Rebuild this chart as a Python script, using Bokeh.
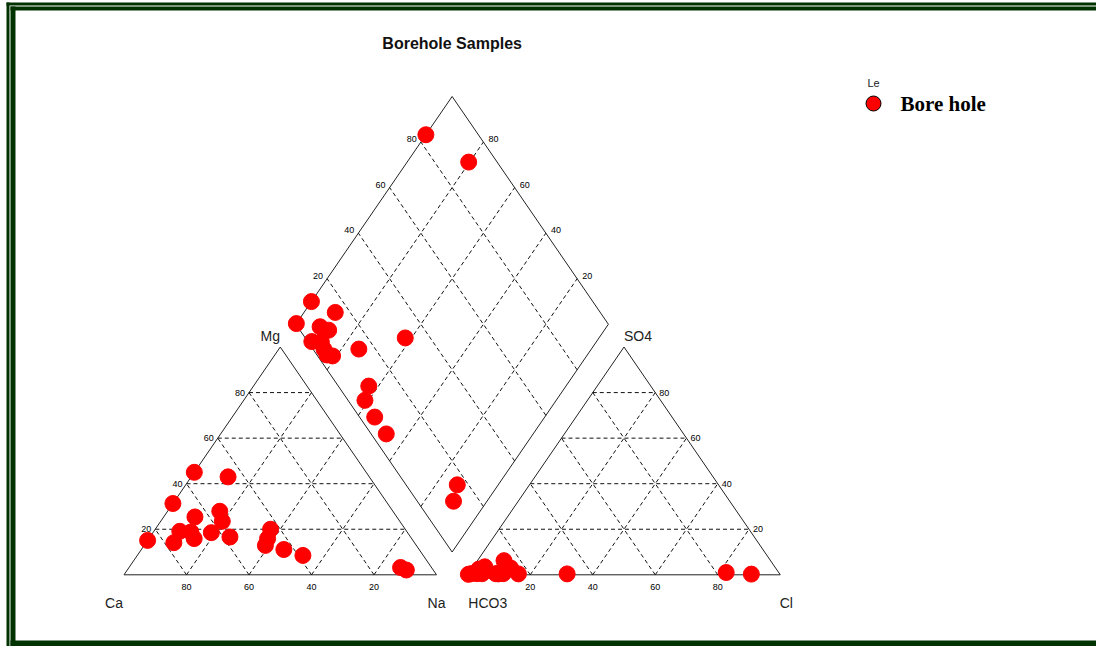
import numpy as np
from bokeh.plotting import figure
from bokeh.models import Range1d
from bokeh.core.properties import value
from bokeh.embed import file_html
from bokeh.resources import INLINE

# ---------------- data (meq %) ----------------
title_text = "Borehole Samples"
legend_label = "Bore hole"
ca = [55.0, 68.7, 84.9, 56.8, 62.8, 55.4, 69.6, 45.2, 69.2, 64.6,
      72.6, 77.0, 57.8, 43.1, 46.1, 48.3, 43.3, 38.5, 9.9, 8.6]
mg = [45.0, 31.3, 15.1, 23.5, 18.5, 27.9, 15.9, 43.0, 18.8, 25.4,
      19.1, 14.1, 16.6, 20.0, 15.9, 12.9, 11.1, 8.5, 3.2, 2.1]
na = [0.0, 0.0, 0.0, 19.7, 18.7, 16.7, 14.5, 11.8, 12.0, 10.0,
      8.3, 8.9, 25.6, 36.9, 38.0, 38.8, 45.6, 53.0, 86.9, 89.3]
hco3 = [16.8, 90.05, 99.7, 9.1, 95.2, 96.8, 96.5, 90.8, 95.7, 84.8,
        92.8, 98.7, 85.3, 90.25, 68.0, 94.6, 95.15, 95.15, 83.6, 88.4]
so4 = [1.0, 0.4, 0.2, 0.3, 2.5, 0.5, 1.0, 0.5, 1.5, 3.0,
       3.5, 0.5, 6.2, 0.5, 0.4, 2.2, 0.5, 1.0, 0.4, 0.5]
cl = [82.2, 9.55, 0.1, 90.6, 2.3, 2.7, 2.5, 8.7, 2.8, 12.2,
      3.7, 0.8, 8.5, 9.25, 31.6, 3.2, 4.35, 3.85, 16.0, 11.1]
tick_vals = [20, 40, 60, 80]
cation_corners = ["Ca", "Na", "Mg"]
anion_corners = ["HCO3", "Cl", "SO4"]

# ---------------- layout ----------------
G = 10.0              # gap between triangles
H = np.sqrt(3) / 2
X0, SX = 123.5, 3.125  # page px of Ca corner, px per unit
Y0, SY = 574.3, 2.63
W, HT = 1096, 646

def px2x(px):
    return (px - X0) / SX

def px2y(py):
    return (Y0 - py) / SY

GREEN = "#003300"
FONT = "Liberation Sans"
LINEC = "#222222"
RED = "#FF0000"

p = figure(width=W, height=HT, x_range=Range1d(px2x(0), px2x(W)),
           y_range=Range1d(px2y(HT), px2y(0)), x_axis_type=None, y_axis_type=None,
           output_backend="svg", toolbar_location=None, min_border=0,
           outline_line_color=None, background_fill_color="white",
           border_fill_color="white")

# ---------------- frame ----------------
def qpx(l, r, t, b):
    p.quad(left=px2x(l), right=px2x(r), top=px2y(t), bottom=px2y(b),
           fill_color=GREEN, line_color=None)

qpx(6, 9, 2, HT)
qpx(10, 15, 6, HT)
qpx(6, W, 2, 5)
qpx(10, W, 6, 10)
qpx(10, W, 640, HT)

# ---------------- geometry ----------------
ca_a, mg_a, na_a = map(np.array, (ca, mg, na))
hc_a, so_a, cl_a = map(np.array, (hco3, so4, cl))
cs = ca_a + mg_a + na_a
as_ = hc_a + so_a + cl_a
mgp, nap = 100 * mg_a / cs, 100 * na_a / cs
sop, clp = 100 * so_a / as_, 100 * cl_a / as_

XR = 100 + G  # right triangle offset
Bx, By = 100 + G / 2, G * H
ur = np.array([0.5, H])
ul = np.array([-0.5, H])

cx = nap + mgp / 2
cy = mgp * H
axx = XR + clp + sop / 2
ayy = sop * H
K = 100 - nap
A = sop + clp
dx = Bx + 0.5 * (A - K)
dy = By + H * (A + K)

# ---------------- outlines ----------------
tri_l = ([0, 100, 50, 0], [0, 0, 100 * H, 0])
tri_r = ([XR, XR + 100, XR + 50, XR], [0, 0, 100 * H, 0])
B = np.array([Bx, By])
L = B + 100 * ul
R = B + 100 * ur
T = B + 100 * ul + 100 * ur
p.line(*tri_l, line_color=LINEC, line_width=1)
p.line(*tri_r, line_color=LINEC, line_width=1)
p.line([B[0], R[0], T[0], L[0], B[0]], [B[1], R[1], T[1], L[1], B[1]],
       line_color=LINEC, line_width=1)

# ---------------- grids ----------------
xs, ys = [], []
for v in tick_vals:
    for off in (0, XR):
        xs.append([off + v / 2, off + 100 - v / 2]); ys.append([v * H, v * H])
        xs.append([off + v, off + v + (100 - v) / 2]); ys.append([0, (100 - v) * H])
        xs.append([off + 100 - v, off + (100 - v) / 2]); ys.append([0, (100 - v) * H])
    s = B + v * ur
    e = s + 100 * ul
    xs.append([s[0], e[0]]); ys.append([s[1], e[1]])
    s = B + v * ul
    e = s + 100 * ur
    xs.append([s[0], e[0]]); ys.append([s[1], e[1]])
p.multi_line(xs, ys, line_color="#111111", line_width=1, line_dash="4 3")

# ---------------- tick labels ----------------
tv = np.array(tick_vals, dtype=float)
tfs = "9px"
TC = "#000000"
p.text(tv, np.zeros(4), text=[str(int(100 - v)) for v in tv], y_offset=12,
       text_align="center", text_baseline="middle", text_font=value(FONT),
       text_font_size=tfs, text_color=TC)
p.text(tv / 2, tv * H, text=[str(int(v)) for v in tv], x_offset=-4,
       text_align="right", text_baseline="middle", text_font=value(FONT),
       text_font_size=tfs, text_color=TC)
p.text(XR + tv, np.zeros(4), text=[str(int(v)) for v in tv], y_offset=12,
       text_align="center", text_baseline="middle", text_font=value(FONT),
       text_font_size=tfs, text_color=TC)
p.text(XR + 100 - tv / 2, tv * H, text=[str(int(v)) for v in tv], x_offset=4,
       text_align="left", text_baseline="middle", text_font=value(FONT),
       text_font_size=tfs, text_color=TC)
ulp = np.array([L + v * ur for v in tv])
p.text(ulp[:, 0], ulp[:, 1], text=[str(int(v)) for v in tv], x_offset=-4, y_offset=-3,
       text_align="right", text_baseline="middle", text_font=value(FONT),
       text_font_size=tfs, text_color=TC)
urp = np.array([R + v * ul for v in tv])
p.text(urp[:, 0], urp[:, 1], text=[str(int(v)) for v in tv], x_offset=5, y_offset=-3,
       text_align="left", text_baseline="middle", text_font=value(FONT),
       text_font_size=tfs, text_color=TC)

# ---------------- corner labels ----------------
cfs = "14px"
corner_x = [0, 100, 50, XR, XR + 100, XR + 50]
corner_y = [0, 0, 100 * H, 0, 0, 100 * H]
corner_dx = [-10, 0, -10, 20, 6, 14]
corner_dy = [28, 28, -11, 28, 28, -11]
p.text(corner_x, corner_y, text=cation_corners + anion_corners,
       x_offset=corner_dx, y_offset=corner_dy, text_align="center",
       text_baseline="middle", text_font=value(FONT), text_font_size=cfs,
       text_color="#222222")

# ---------------- title ----------------
p.text([Bx], [px2y(43)], text=[title_text], text_align="center",
       text_baseline="middle", text_font=value(FONT), text_font_size="16px",
       text_font_style="bold", text_color="#111111")

# ---------------- data points ----------------
allx = np.concatenate([cx, axx, dx])
ally = np.concatenate([cy, ayy, dy])
p.scatter(allx, ally, size=16, marker="circle", fill_color=RED, line_color=RED)

# ---------------- legend ----------------
p.text([px2x(873)], [px2y(82)], text=["Le"], text_align="center",
       text_baseline="middle", text_font=value(FONT), text_font_size="11px",
       text_color="#222222")
p.scatter([px2x(873)], [px2y(103)], size=15, marker="circle",
          fill_color=RED, line_color="#000000", line_width=1)
p.text([px2x(900)], [px2y(103)], text=[legend_label], text_align="left",
       text_baseline="middle", text_font=value("Liberation Serif"),
       text_font_size="21px", text_font_style="bold", text_color="#000000")

open("out.html", "w").write(file_html(p, INLINE))
